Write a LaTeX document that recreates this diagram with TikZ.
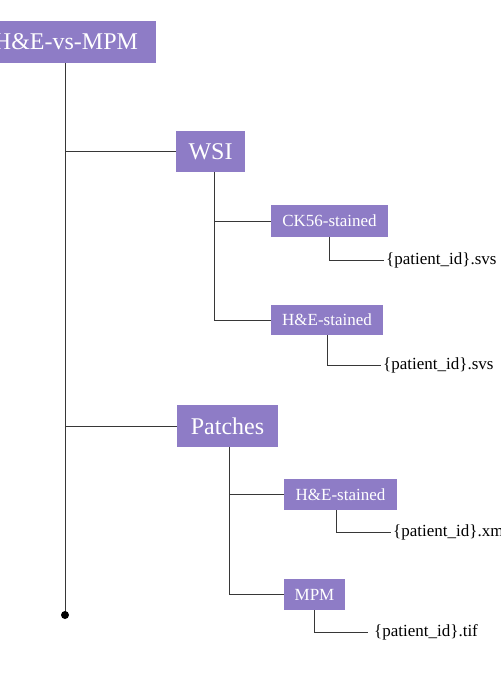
\documentclass[tikz,border=0pt]{standalone}
\usepackage{fontspec}
\setmainfont{Liberation Serif}
\definecolor{boxpurple}{RGB}{142,124,198}
\definecolor{linegray}{RGB}{55,55,55}
\begin{document}
\begin{tikzpicture}[x=1pt,y=-1pt,
  pbox/.style={fill=boxpurple,text=white,inner sep=0pt,align=center},
  big/.style={pbox,font=\fontsize{24}{28}\selectfont},
  small/.style={pbox,font=\fontsize{17}{20}\selectfont},
  fname/.style={anchor=west,inner xsep=2pt,inner ysep=0pt,font=\fontsize{17}{20}\selectfont,text=black},
  conn/.style={draw=linegray,line width=1pt}]
\useasboundingbox (0,0) rectangle (500,676);
\fill[white] (0,0) rectangle (500,676);
% nodes
\node[big,minimum width=180pt,minimum height=42pt] (root) at (66,42) {H\&E-vs-MPM};
\node[big,minimum width=69pt,minimum height=41pt] (wsi) at (210.5,151.5) {WSI};
\node[big,minimum width=101pt,minimum height=42pt] (patches) at (227.5,426) {Patches};
\node[small,minimum width=117pt,minimum height=32pt] (ck) at (329.5,221) {CK56-stained};
\node[small,minimum width=112pt,minimum height=30pt] (he1) at (327,320) {H\&E-stained};
\node[small,minimum width=113pt,minimum height=31pt] (he2) at (340.5,494.5) {H\&E-stained};
\node[small,minimum width=61pt,minimum height=31pt] (mpm) at (314.5,594.5) {MPM};
\node[fname] (f1) at (384,260) {\{patient\_id\}.svs};
\node[fname] (f2) at (381,365) {\{patient\_id\}.svs};
\node[fname] (f3) at (391,532) {\{patient\_id\}.xml};
\node[fname,inner xsep=6pt] (f4) at (368,632) {\{patient\_id\}.tif};
\coordinate (dot) at (65,615);
% main trunk
\draw[conn] (root.south -| dot) -- (dot);
\fill[black] (dot) circle (4pt);
\draw[conn] (wsi.west) -- (wsi.west -| dot);
\draw[conn] (patches.west) -- (patches.west -| dot);
% WSI subtree
\coordinate (wsiv) at ([xshift=3.5pt]wsi.south);
\draw[conn] (wsiv) |- (he1.west);
\draw[conn] (ck.west) -- (ck.west -| wsiv);
\draw[conn] (ck.south) |- (f1.west);
\draw[conn] (he1.south) |- (f2.west);
% Patches subtree
\coordinate (patv) at ([xshift=1.5pt]patches.south);
\draw[conn] (patv) |- (mpm.west);
\draw[conn] (he2.west) -- (he2.west -| patv);
\draw[conn] ([xshift=-4.5pt]he2.south) |- (f3.west);
\draw[conn] (mpm.south) |- (f4.west);
\end{tikzpicture}
\end{document}
